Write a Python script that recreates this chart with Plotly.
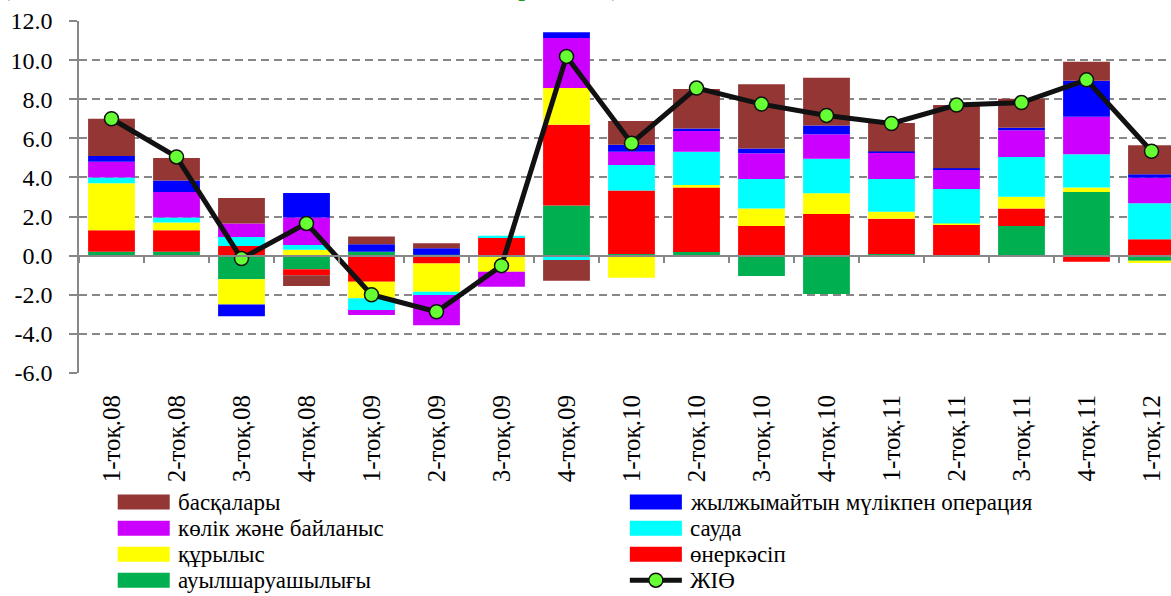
import plotly.graph_objects as go

categories = ["1-тоқ.08", "2-тоқ.08", "3-тоқ.08", "4-тоқ.08", "1-тоқ.09", "2-тоқ.09",
              "3-тоқ.09", "4-тоқ.09", "1-тоқ.10", "2-тоқ.10", "3-тоқ.10", "4-тоқ.10",
              "1-тоқ.11", "2-тоқ.11", "3-тоқ.11", "4-тоқ.11", "1-тоқ.12"]

agriculture = [0.2, 0.2, -1.2, -0.7, 0.2, 0.05, 0.0, 2.56, 0.09, 0.19, -1.04, -1.96, 0.08, 0.0, 1.52, 3.26, -0.26]
industry = [1.1, 1.1, 0.5, -0.3, -1.33, -0.4, 0.94, 4.13, 3.24, 3.29, 1.52, 2.13, 1.81, 1.6, 0.89, -0.31, 0.84]
construction = [2.4, 0.4, -1.3, 0.3, -0.85, -1.44, -0.82, 1.88, -1.13, 0.14, 0.89, 1.06, 0.35, 0.05, 0.6, 0.22, -0.12]
trade = [0.3, 0.25, 0.45, 0.25, -0.6, -0.17, 0.08, -0.22, 1.31, 1.7, 1.51, 1.76, 1.68, 1.76, 2.03, 1.71, 1.84]
transport = [0.8, 1.3, 0.7, 1.4, -0.26, -1.55, -0.77, 2.56, 0.68, 1.08, 1.32, 1.26, 1.34, 0.98, 1.37, 1.91, 1.31]
real_estate = [0.3, 0.6, -0.6, 1.25, 0.38, 0.33, 0.0, 0.29, 0.35, 0.1, 0.24, 0.45, 0.07, 0.08, 0.13, 1.84, 0.17]
other = [1.9, 1.15, 1.3, -0.55, 0.4, 0.25, 0.0, -1.06, 1.22, 2.02, 3.29, 2.44, 1.46, 3.24, 1.48, 0.97, 1.49]
gdp = [7.0, 5.05, -0.15, 1.65, -2.0, -2.87, -0.51, 10.19, 5.75, 8.57, 7.75, 7.17, 6.76, 7.7, 7.83, 8.99, 5.34]

y_tick_values = [-6, -4, -2, 0, 2, 4, 6, 8, 10, 12]
y_tick_labels = ["-6.0", "-4.0", "-2.0", "0.0", "2.0", "4.0", "6.0", "8.0", "10.0", "12.0"]

title_text = "(өткен жылдың тиісті тоқсанына, пайыздық тармақпен)"
gdp_name = "ЖІӨ"

# (name, values, color, legend rank) in stacking order
series = [
    ("ауылшаруашылығы", agriculture, "#00B050", 7),
    ("өнеркәсіп", industry, "#FF0000", 6),
    ("құрылыс", construction, "#FFFF00", 5),
    ("сауда", trade, "#00FFFF", 4),
    ("көлік және байланыс", transport, "#CC00FF", 3),
    ("жылжымайтын мүлікпен операция", real_estate, "#0000FF", 2),
    ("басқалары", other, "#943634", 1),
]

FONT = "Liberation Serif"
GRID = "#878787"
LINE_COLOR = "#111111"
MARKER_COLOR = "#66FF33"

W, H = 1171, 596
L, T, B = 79.3, 21.3, 223
PW, PH = W - L, H - T - B


def px_x(x):
    return (x - L) / PW


def px_y(y):
    return (H - B - y) / PH


fig = go.Figure()
for name, vals, color, rank in series:
    fig.add_trace(go.Bar(
        x=categories, y=vals, name=name, legendrank=rank, showlegend=False,
        marker=dict(color=color, line=dict(width=0)),
    ))

fig.add_trace(go.Scatter(
    x=categories, y=gdp, name=gdp_name, xaxis="x2", showlegend=False,
    mode="lines+markers",
    line=dict(color=LINE_COLOR, width=5),
    marker=dict(size=14, color=MARKER_COLOR, line=dict(color=LINE_COLOR, width=1.5)),
))

ymin, ymax = y_tick_values[0], y_tick_values[-1]
xrange = [-0.5, len(categories) - 0.7]
zero_pos = (0 - ymin) / (ymax - ymin)

# ---- manual legend (two columns, Excel-like wide swatches) ----
shapes = []
annotations = []
legend_entries = [(n, c) for n, _, c, r in sorted(series, key=lambda s: s[3])] + [(gdp_name, None)]
col_x = [118, 630]
row_y = [502, 528, 554, 580]
sw_w, sw_h = 52, 15
for i, (name, color) in enumerate(legend_entries):
    cx = col_x[i % 2]
    cy = row_y[i // 2]
    if color is not None:
        shapes.append(dict(type="rect", xref="paper", yref="paper",
                           x0=px_x(cx), x1=px_x(cx + sw_w),
                           y0=px_y(cy + sw_h / 2), y1=px_y(cy - sw_h / 2),
                           fillcolor=color, line=dict(width=0)))
    else:
        shapes.append(dict(type="line", xref="paper", yref="paper",
                           x0=px_x(cx), x1=px_x(cx + sw_w), y0=px_y(cy), y1=px_y(cy),
                           line=dict(color=LINE_COLOR, width=5)))
        mx = cx + sw_w / 2
        shapes.append(dict(type="circle", xref="paper", yref="paper",
                           x0=px_x(mx - 7), x1=px_x(mx + 7), y0=px_y(cy + 7), y1=px_y(cy - 7),
                           fillcolor=MARKER_COLOR, line=dict(color=LINE_COLOR, width=1.5)))
    annotations.append(dict(text=name, xref="paper", yref="paper",
                            x=px_x(cx + sw_w + 6), y=px_y(cy), xanchor="left", yanchor="middle",
                            showarrow=False,
                            font=dict(family=FONT, size=23, color="black")))

annotations.append(dict(
    text=title_text, xref="paper", yref="paper", x=px_x(0), y=px_y(3),
    xanchor="left", yanchor="bottom", showarrow=False,
    font=dict(family=FONT, size=24, color="#1E9E1E", weight="bold"),
))

fig.update_layout(
    width=W, height=H,
    margin=dict(l=L, r=0, t=T, b=B, autoexpand=False),
    barmode="relative", bargap=0.28,
    plot_bgcolor="white", paper_bgcolor="white",
    font=dict(family=FONT, size=24, color="black"),
    showlegend=False,
    xaxis=dict(
        type="category", categoryorder="array", categoryarray=categories,
        range=xrange, tickangle=-90, ticks="", showline=False, showgrid=False,
        zeroline=False, ticklabelstandoff=16,
        tickfont=dict(family=FONT, size=25, color="black"),
    ),
    xaxis2=dict(
        type="category", categoryorder="array", categoryarray=categories,
        overlaying="x", anchor="free", position=zero_pos, side="bottom",
        range=xrange, showline=True, linecolor=GRID, linewidth=1.5,
        ticks="outside", ticklen=7, tickwidth=1.5, tickcolor=GRID,
        tickson="boundaries", showticklabels=False, showgrid=False, zeroline=False,
    ),
    yaxis=dict(
        range=[ymin, ymax], tickvals=y_tick_values, ticktext=y_tick_labels,
        showgrid=True, gridcolor=GRID, gridwidth=1.5, griddash="8px,5px",
        showline=True, linecolor=GRID, linewidth=1.5,
        ticks="outside", ticklen=8, tickwidth=1.5, tickcolor=GRID,
        zeroline=False, ticklabelstandoff=12,
        tickfont=dict(family=FONT, size=24, color="black"),
    ),
    shapes=shapes,
    annotations=annotations,
)

fig.write_html("out.html", config={"displayModeBar": False},
               post_script="document.body.style.margin='0';")
